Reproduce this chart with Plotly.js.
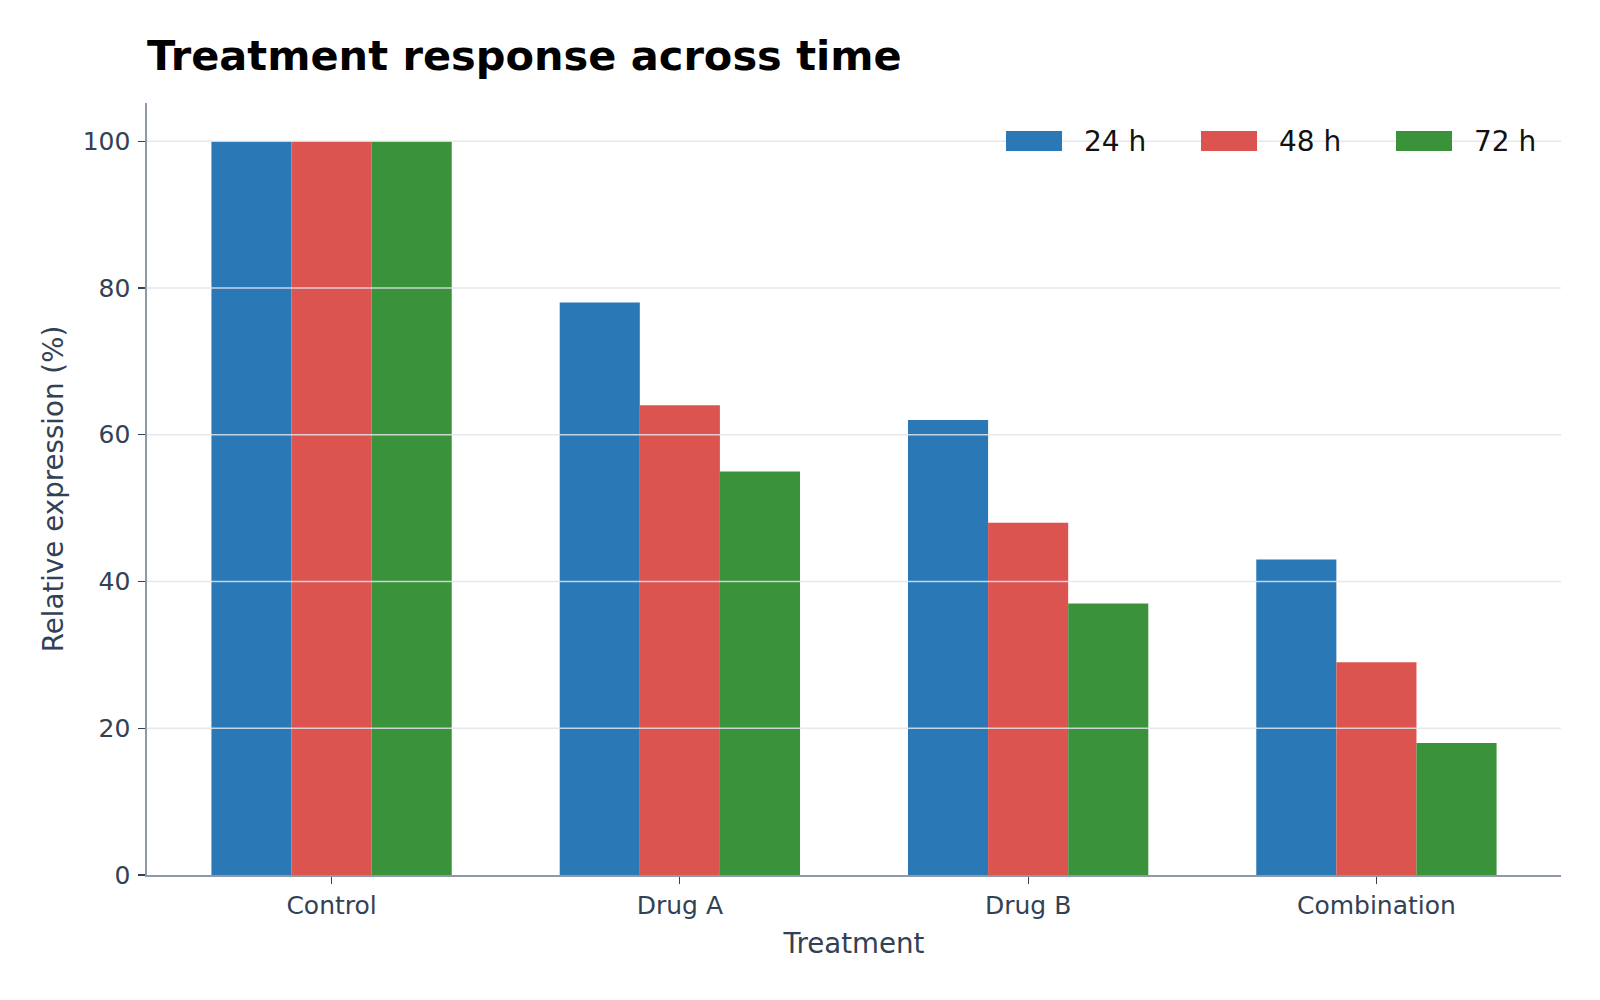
<!DOCTYPE html>
<html>
<head>
<meta charset="utf-8">
<script src="https://cdn.plot.ly/plotly-3.0.1.min.js"></script>
<style>html,body{margin:0;padding:0;background:#fff;}#chart{width:1600px;height:1000px;}</style>
</head>
<body>
<div id="chart"></div>
<script>
const categories = ["Control", "Drug A", "Drug B", "Combination"];
const seriesNames = ["24 h", "48 h", "72 h"];
const values24 = [100, 78, 62, 43];
const values48 = [100, 64, 48, 29];
const values72 = [100, 55, 37, 18];
const seriesColors = ["#2a78b5", "#db5450", "#3a923a"];
const yTickVals = [0, 20, 40, 60, 80, 100];

const seriesValues = [values24, values48, values72];
const traces = seriesNames.map((name, i) => ({
  type: "bar",
  name: name,
  x: categories,
  y: seriesValues[i],
  marker: {color: seriesColors[i], line: {width: 0}},
  showlegend: false,
  hoverinfo: "x+y+name"
}));

const fontFam = "DejaVu Sans, sans-serif";

// plot area geometry (pixels)
const L = 147, R = 39, T = 103, B = 125, W = 1600, H = 1000;
const PW = W - L - R, PH = H - T - B;
const px2x = p => (p - L) / PW;
const py2y = p => (H - B - p) / PH;

// gridlines drawn above bars
const gridShapes = yTickVals.filter(v => v > 0).map(v => ({
  type: "line", xref: "paper", yref: "y", x0: 0, x1: 1, y0: v, y1: v,
  line: {color: "rgba(226,228,236,0.85)", width: 1.5}, layer: "above"
}));

// custom legend (swatches + labels)
const legX0 = [1006, 1201, 1396];
const swW = 56;
const legendShapes = seriesNames.map((n, i) => ({
  type: "rect", xref: "paper", yref: "paper",
  x0: px2x(legX0[i]), x1: px2x(legX0[i] + swW),
  y0: py2y(151), y1: py2y(131),
  fillcolor: seriesColors[i], line: {width: 0}, layer: "above"
}));
const legendAnn = seriesNames.map((n, i) => ({
  xref: "paper", yref: "paper",
  x: px2x(legX0[i] + 76), y: py2y(142),
  xanchor: "left", yanchor: "middle", showarrow: false,
  text: n, font: {family: fontFam, size: 28, color: "#111111"}
}));

const layout = {
  width: W, height: H,
  paper_bgcolor: "#ffffff", plot_bgcolor: "#ffffff",
  margin: {l: L, r: R, t: T, b: B},
  font: {family: fontFam, color: "#334155"},
  title: {
    text: "<b>Treatment response across time</b>",
    x: L / W, xanchor: "left", xref: "container",
    y: 1 - 55 / H, yanchor: "middle", yref: "container",
    font: {family: fontFam, size: 41.5, color: "#000000"}
  },
  barmode: "group", bargap: 0.31, bargroupgap: 0,
  xaxis: {
    type: "category",
    range: [-0.53, 3.53],
    showgrid: false, zeroline: false,
    showline: true, linecolor: "#8f99aa", linewidth: 1.6,
    ticks: "outside", ticklen: 7, tickwidth: 1.2, tickcolor: "#334155",
    ticklabelstandoff: 0,
    tickfont: {family: fontFam, size: 25, color: "#334155"},
    title: {text: "Treatment", font: {family: fontFam, size: 27.7, color: "#334155"}, standoff: 15}
  },
  yaxis: {
    range: [0, 105.2],
    tickvals: yTickVals,
    showgrid: false, zeroline: false,
    showline: true, linecolor: "#8f99aa", linewidth: 1.6,
    ticks: "outside", ticklen: 7, tickwidth: 1.2, tickcolor: "#334155",
    ticklabelstandoff: 3,
    tickfont: {family: fontFam, size: 25, color: "#334155"},
    title: {text: "Relative expression (%)", font: {family: fontFam, size: 27.7, color: "#334155"}, standoff: 11}
  },
  shapes: gridShapes.concat(legendShapes),
  annotations: legendAnn,
  showlegend: false
};

Plotly.newPlot("chart", traces, layout, {displayModeBar: false, staticPlot: true});
</script>
</body>
</html>
